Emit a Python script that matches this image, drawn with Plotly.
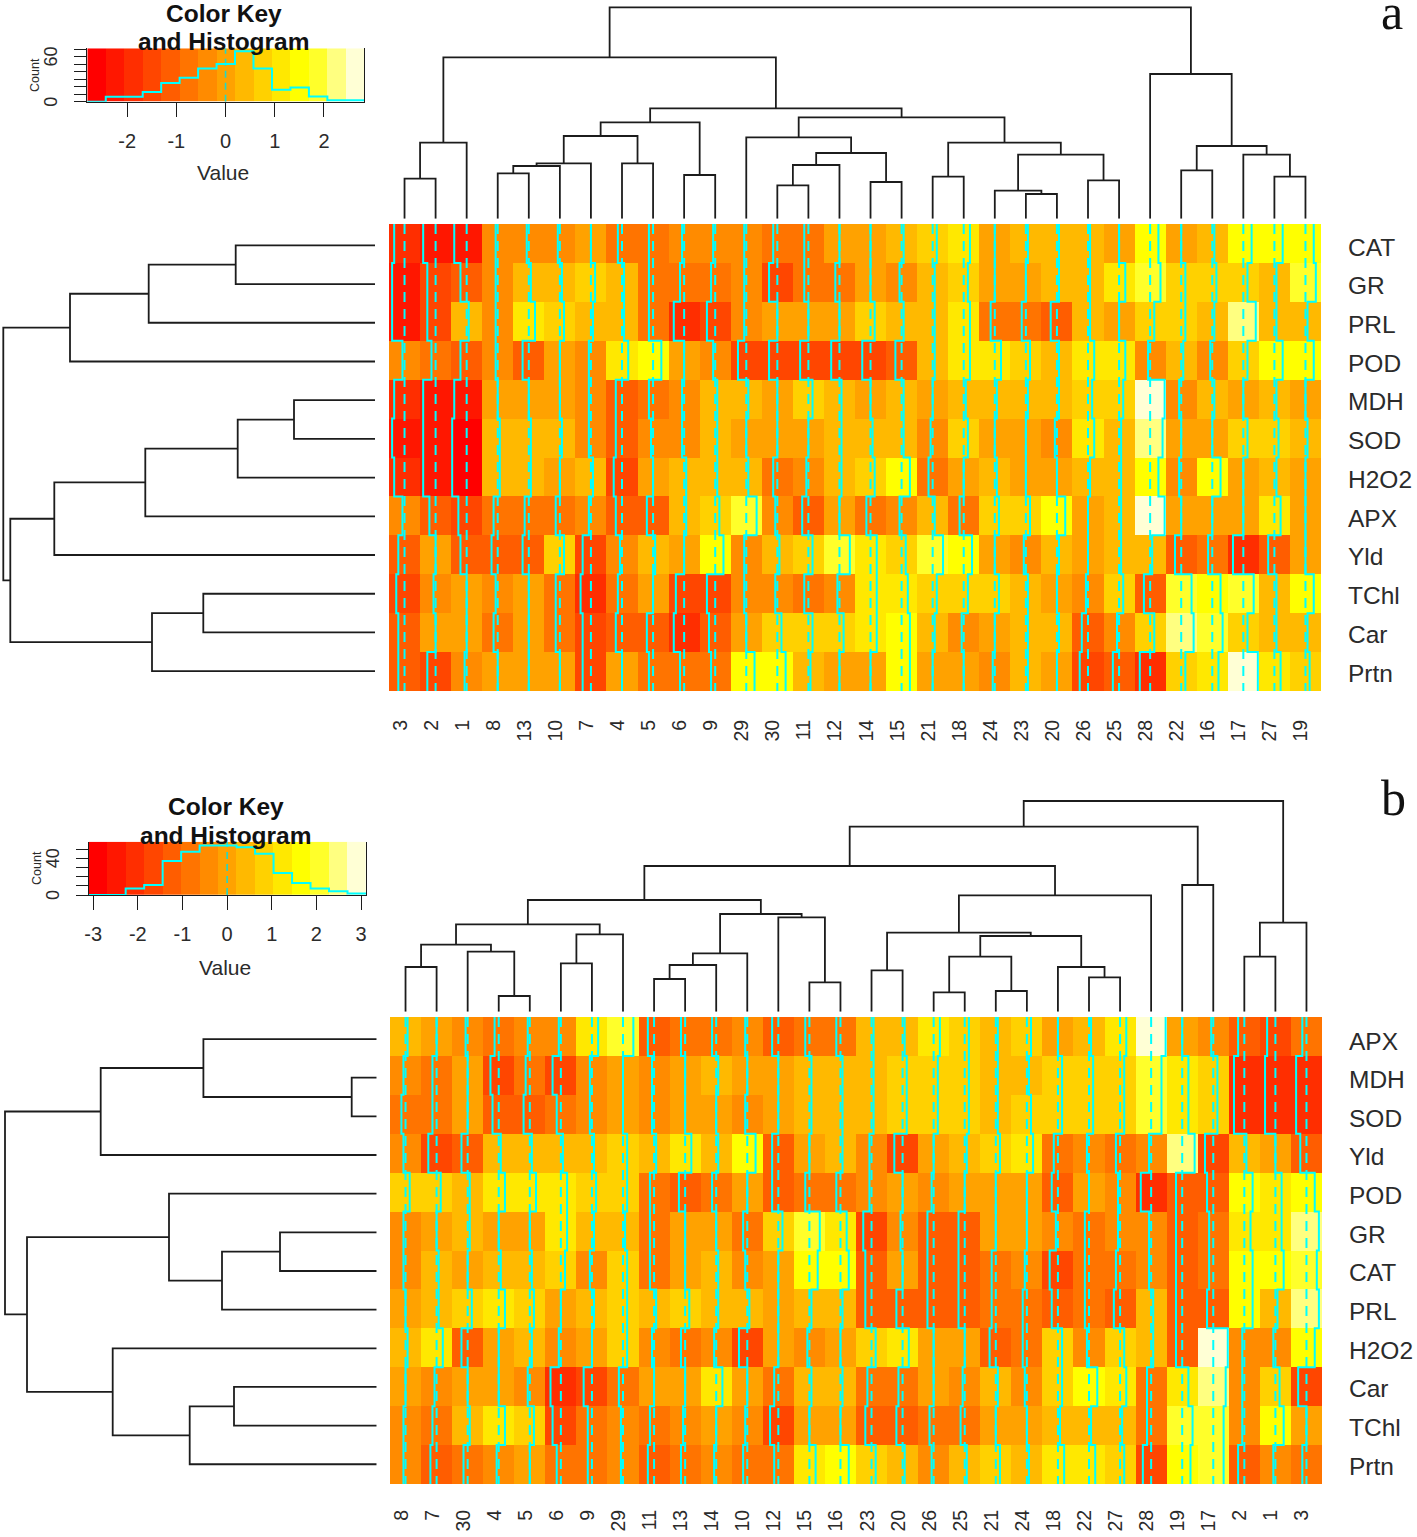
import plotly.graph_objects as go

W, H = 1417, 1537

# colour levels of the key (R heat.colors(15))
key_colors = ["#FF0000", "#FF1700", "#FF2E00", "#FF4600", "#FF5D00", "#FF7400", "#FF8B00", "#FFA200",
              "#FFB900", "#FFD100", "#FFE800", "#FFFF00", "#FFFF2A", "#FFFF80", "#FFFFD5"]

# ---------- panel a ----------
a_rows = ["CAT", "GR", "PRL", "POD", "MDH", "SOD", "H2O2", "APX", "Yld", "TChl", "Car", "Prtn"]
a_cols = ["3", "2", "1", "8", "13", "10", "7", "4", "5", "6", "9", "29", "30", "11", "12",
          "14", "15", "21", "18", "24", "23", "20", "26", "25", "28", "22", "16", "17", "27", "19"]
a_CAT = [2, 1, 1, 6, 6, 6, 7, 5, 5, 6, 6, 6, 5, 5, 7, 7, 8, 9, 10, 7, 8, 8, 8, 7, 11, 7, 8, 11, 11, 11]
a_GR = [1, 3, 4, 6, 8, 8, 9, 8, 5, 5, 5, 6, 3, 5, 5, 7, 6, 8, 9, 7, 7, 8, 8, 10, 12, 9, 9, 9, 8, 12]
a_PRL = [1, 3, 8, 6, 10, 9, 8, 8, 5, 2, 3, 6, 7, 7, 7, 9, 8, 8, 10, 5, 5, 4, 8, 7, 9, 9, 8, 13, 8, 8]
a_POD = [6, 5, 4, 6, 4, 7, 6, 10, 11, 7, 6, 3, 3, 3, 3, 3, 4, 8, 10, 10, 9, 8, 10, 10, 6, 8, 6, 9, 11, 11]
a_MDH = [2, 1, 1, 7, 7, 7, 6, 4, 5, 6, 8, 8, 7, 9, 8, 7, 8, 7, 8, 8, 8, 8, 9, 9, 14, 6, 8, 7, 8, 7]
a_SOD = [1, 1, 0, 8, 8, 8, 6, 4, 6, 6, 8, 7, 7, 7, 8, 8, 8, 6, 9, 7, 7, 6, 10, 8, 13, 7, 7, 9, 9, 8]
a_H2O2 = [2, 1, 0, 8, 8, 7, 8, 3, 7, 8, 8, 8, 5, 6, 8, 9, 11, 5, 7, 8, 7, 7, 8, 8, 11, 6, 11, 7, 8, 7]
a_APX = [6, 4, 3, 5, 5, 5, 6, 4, 4, 8, 9, 12, 6, 4, 7, 5, 6, 8, 5, 9, 9, 11, 7, 8, 14, 7, 7, 7, 10, 7]
a_Yld = [4, 7, 4, 4, 4, 9, 3, 6, 8, 7, 11, 6, 8, 9, 12, 10, 9, 12, 11, 7, 6, 8, 7, 8, 8, 4, 5, 2, 4, 7]
a_TChl = [3, 6, 7, 6, 7, 5, 2, 5, 7, 3, 3, 6, 6, 5, 6, 10, 10, 9, 9, 9, 8, 7, 6, 9, 4, 12, 11, 12, 8, 11]
a_Car = [4, 7, 7, 5, 7, 5, 3, 4, 4, 2, 4, 7, 9, 9, 9, 10, 11, 8, 6, 7, 8, 8, 4, 6, 9, 13, 12, 9, 8, 8]
a_Prtn = [4, 3, 6, 7, 7, 7, 3, 7, 5, 5, 5, 11, 11, 8, 7, 7, 11, 7, 7, 6, 8, 7, 3, 4, 2, 9, 10, 14, 10, 9]
a_levels = [a_CAT, a_GR, a_PRL, a_POD, a_MDH, a_SOD, a_H2O2, a_APX, a_Yld, a_TChl, a_Car, a_Prtn]

# merge trees: (height, left, right)
a_col_tree = (211.3,
    (161.3,
        (76, (40, "3", "2"), "1"),
        (110.3,
            (96.3,
                (82.7,
                    (55.3, (52.7, (45.3, "8", "13"), "10"), "7"),
                    (55.3, "4", "5")),
                (43.7, "6", "9")),
            (101.3,
                (81.3, "29",
                    (65.7,
                        (53.7, (33.3, "30", "11"), "12"),
                        (36.7, "14", "15"))),
                (76,
                    (42, "21", "18"),
                    (64,
                        (28, "24", (24.7, "23", "20")),
                        (38.3, "26", "25")))))),
    (144.7, "28",
        (72.7,
            (48.3, "22", "16"),
            (64, "17", (42, "27", "19")))))
a_row_tree = (371.7,
    (305, (226.3, (139.3, "CAT", "GR"), "PRL"), "POD"),
    (364.7,
        (320.7,
            (229.7, (137.3, (81, "MDH", "SOD"), "H2O2"), "APX"),
            "Yld"),
        (223, (171.7, "TChl", "Car"), "Prtn")))

a_hist = [0, 6.7, 6.7, 13, 25, 32, 44, 50, 67, 44, 16, 19, 7, 2, 2]
a_key_range = [-2.81, 2.82]
a_key_xticks = [-2, -1, 0, 1, 2]
a_key_yticks = [0, 10, 20, 30, 40, 50, 60, 70]
a_key_ylabels = [0, 60]
a_key_top = 71

# ---------- panel b ----------
b_rows = ["APX", "MDH", "SOD", "Yld", "POD", "GR", "CAT", "PRL", "H2O2", "Car", "TChl", "Prtn"]
b_cols = ["8", "7", "30", "4", "5", "6", "9", "29", "11", "13", "14", "10", "12", "15", "16",
          "23", "20", "26", "25", "21", "24", "18", "22", "27", "28", "19", "17", "2", "1", "3"]
b_APX = [8, 7, 6, 5, 6, 6, 10, 12, 4, 5, 5, 6, 4, 5, 5, 8, 8, 10, 9, 8, 9, 7, 8, 10, 14, 7, 6, 4, 3, 5]
b_MDH = [6, 5, 7, 3, 5, 3, 6, 7, 6, 7, 8, 7, 7, 8, 8, 8, 9, 9, 9, 8, 8, 9, 9, 9, 12, 10, 9, 2, 2, 2]
b_SOD = [5, 5, 7, 4, 4, 5, 6, 7, 6, 7, 7, 6, 7, 8, 8, 8, 9, 9, 9, 8, 9, 9, 9, 9, 12, 10, 9, 2, 2, 2]
b_Yld = [6, 3, 4, 8, 8, 8, 8, 9, 8, 10, 8, 11, 4, 7, 8, 6, 3, 7, 8, 9, 10, 5, 6, 5, 6, 13, 3, 8, 7, 4]
b_POD = [9, 9, 8, 10, 10, 10, 9, 9, 5, 4, 5, 7, 4, 5, 5, 6, 7, 6, 7, 7, 7, 4, 7, 6, 2, 4, 4, 11, 10, 11]
b_GR = [6, 7, 8, 7, 7, 10, 8, 8, 5, 7, 7, 5, 9, 12, 10, 3, 6, 4, 4, 7, 7, 6, 5, 6, 6, 4, 5, 10, 10, 13]
b_CAT = [6, 8, 7, 8, 8, 9, 6, 9, 5, 7, 8, 6, 7, 11, 11, 4, 7, 4, 4, 5, 6, 3, 5, 5, 6, 4, 5, 11, 11, 12]
b_PRL = [7, 8, 9, 10, 9, 7, 8, 9, 8, 9, 8, 8, 7, 8, 8, 4, 4, 4, 4, 5, 5, 4, 5, 4, 8, 4, 4, 11, 8, 13]
b_H2O2 = [8, 10, 4, 7, 8, 6, 7, 9, 6, 5, 6, 3, 7, 6, 7, 9, 10, 7, 7, 4, 5, 9, 6, 9, 8, 4, 14, 6, 6, 11]
b_Car = [7, 6, 7, 7, 6, 2, 3, 5, 7, 7, 10, 7, 5, 8, 8, 5, 5, 7, 6, 8, 6, 9, 11, 10, 5, 10, 13, 6, 9, 3]
b_TChl = [6, 5, 8, 10, 9, 3, 5, 6, 5, 6, 7, 6, 3, 7, 7, 4, 4, 5, 5, 7, 7, 8, 8, 8, 5, 12, 12, 6, 11, 7]
b_Prtn = [6, 4, 5, 6, 7, 5, 5, 6, 4, 5, 6, 5, 5, 10, 11, 9, 8, 6, 8, 9, 8, 10, 10, 9, 3, 11, 12, 4, 6, 5]
b_levels = [b_APX, b_MDH, b_SOD, b_Yld, b_POD, b_GR, b_CAT, b_PRL, b_H2O2, b_Car, b_TChl, b_Prtn]

b_col_tree = (210.7,
    (185,
        (145.7,
            (111.7,
                (87.3,
                    (67,
                        (44.7, "8", "7"),
                        (60, "30", (15.7, "4", "5"))),
                    (77.3, (48.3, "6", "9"), "29")),
                (97.7,
                    (58.3, (46.7, (32.7, "11", "13"), "14"), "10"),
                    (94.3, "12", (29.3, "15", "16")))),
            (116.3,
                (79,
                    (41.3, "23", "20"),
                    (75.7,
                        (55, (19.3, "26", "25"), (20.7, "21", "24")),
                        (44.7, "18", (34.3, "22", "27")))),
                "28")),
        (126.7, "19", "17")),
    (89, (55, "2", "1"), "3"))
b_row_tree = (371.7,
    (276, (173.3, "APX", (25, "MDH", "SOD")), "Yld"),
    (349.7,
        (207.7, "POD", (154.7, (96.7, "GR", "CAT"), "PRL")),
        (264, "H2O2", (187, (142.7, "Car", "TChl"), "Prtn"))))

b_hist = [0, 0, 7, 11, 37, 47, 54, 54, 52, 45, 24, 13, 7, 4, 1.5]
b_key_range = [-3.10, 3.11]
b_key_xticks = [-3, -2, -1, 0, 1, 2, 3]
b_key_yticks = [0, 10, 20, 30, 40, 50]
b_key_ylabels = [0, 40]
b_key_top = 58

# ---------- style ----------
TEXT = "#2b2b2b"
LINE = "#1c1c1c"
CYAN = "#00FFFF"
SANS = "Liberation Sans"
SERIF = "Liberation Serif"
n_lv = len(key_colors)
colorscale = []
for k, c in enumerate(key_colors):
    colorscale += [[k / n_lv, c], [(k + 1) / n_lv, c]]


def xdom(a, b):
    return [a / W, b / W]


def ydom(top, bottom):
    return [1 - bottom / H, 1 - top / H]


def dendro_path(tree, order):
    xs, ys = [], []

    def walk(node):
        if isinstance(node, str):
            return order.index(node), 0
        h, l, r = node
        pl, hl = walk(l)
        pr, hr = walk(r)
        xs.extend([pl, pl, pr, pr, None])
        ys.extend([hl, h, h, hr, None])
        return (pl + pr) / 2, h

    walk(tree)
    return xs, ys


fig = go.Figure()
layout = {}
annotations = []


def ax(i):
    return ("xaxis" if i == 0 else f"xaxis{i + 1}"), ("yaxis" if i == 0 else f"yaxis{i + 1}"), \
           ("x" if i == 0 else f"x{i + 1}"), ("y" if i == 0 else f"y{i + 1}")


def add_panel(base, levels, rows, cols, col_tree, row_tree, hist, key_range, xticks, yticks, ylabels, key_top, g):
    # ---- heat map ----
    xn, yn, xr, yr = ax(base)
    fig.add_trace(go.Heatmap(z=levels, x=list(range(len(cols))), y=list(range(len(rows))),
                             colorscale=colorscale, zmin=-0.5, zmax=n_lv - 0.5, showscale=False,
                             hoverinfo="skip", xaxis=xr, yaxis=yr))
    # centre lines and trace lines
    vx, vy, tx, ty = [], [], [], []
    for j in range(len(cols)):
        vx += [j, j, None]
        vy += [-0.5, len(rows) - 0.5, None]
        for i in range(len(rows)):
            pos = j - 0.5 + (levels[i][j] + 0.5) / n_lv
            tx += [pos, pos]
            ty += [i - 0.5, i + 0.5]
        tx.append(None)
        ty.append(None)
    fig.add_trace(go.Scatter(x=vx, y=vy, mode="lines", xaxis=xr, yaxis=yr, hoverinfo="skip",
                             line=dict(color=CYAN, width=2, dash="10px,7px")))
    fig.add_trace(go.Scatter(x=tx, y=ty, mode="lines", xaxis=xr, yaxis=yr, hoverinfo="skip",
                             line=dict(color=CYAN, width=2)))
    row_h = (g["heat_y"][1] - g["heat_y"][0]) / len(rows)
    label_pos = [(g["label_first"] + i * g["label_step"] - g["heat_y"][0]) / row_h - 0.5 for i in range(len(rows))]
    layout[xn] = dict(domain=xdom(*g["heat_x"]), range=[-0.5, len(cols) - 0.5], anchor=yr, side="bottom",
                      tickmode="array", tickvals=[j - 0.14 for j in range(len(cols))], ticktext=cols, tickangle=-90,
                      ticks="", showgrid=False, zeroline=False, showline=False, ticklabelstandoff=g["col_off"],
                      automargin=False, tickfont=dict(family=SANS, size=19.5, color=TEXT))
    layout[yn] = dict(domain=ydom(*g["heat_y"]), range=[len(rows) - 0.5, -0.5], anchor=xr, side="right",
                      tickmode="array", tickvals=label_pos, ticktext=rows,
                      ticks="", showgrid=False, zeroline=False, showline=False, ticklabelstandoff=26,
                      automargin=False, tickfont=dict(family=SANS, size=24.5, color=TEXT))
    # ---- column dendrogram ----
    xn, yn, xr, yr = ax(base + 1)
    dx, dy = dendro_path(col_tree, cols)
    fig.add_trace(go.Scatter(x=dx, y=dy, mode="lines", xaxis=xr, yaxis=yr, hoverinfo="skip",
                             line=dict(color=LINE, width=1.8)))
    layout[xn] = dict(domain=xdom(*g["heat_x"]), range=[-0.5, len(cols) - 0.5], anchor=yr, visible=False,
                      automargin=False)
    layout[yn] = dict(domain=ydom(g["col_top"], g["col_base"]), range=[0, g["col_base"] - g["col_top"]],
                      anchor=xr, visible=False, automargin=False)
    # ---- row dendrogram ----
    xn, yn, xr, yr = ax(base + 2)
    dy, dx = dendro_path(row_tree, rows)
    fig.add_trace(go.Scatter(x=dx, y=dy, mode="lines", xaxis=xr, yaxis=yr, hoverinfo="skip",
                             line=dict(color=LINE, width=1.8)))
    layout[xn] = dict(domain=xdom(0, g["row_base"]), range=[g["row_base"], 0], anchor=yr, visible=False,
                      automargin=False)
    layout[yn] = dict(domain=ydom(*g["row_y"]), range=[len(rows) - 0.5, -0.5], anchor=xr, visible=False,
                      automargin=False)
    # ---- colour key ----
    xn, yn, xr, yr = ax(base + 3)
    width = (key_range[1] - key_range[0]) / n_lv
    edges = [key_range[0] + k * width for k in range(n_lv + 1)]
    fig.add_trace(go.Heatmap(z=[list(range(n_lv))], x0=key_range[0] + width / 2, dx=width,
                             y0=key_top / 2, dy=key_top, colorscale=colorscale, zmin=-0.5, zmax=n_lv - 0.5,
                             showscale=False, hoverinfo="skip", xaxis=xr, yaxis=yr))
    fig.add_trace(go.Scatter(x=[0, 0], y=[0, key_top], mode="lines", xaxis=xr, yaxis=yr, hoverinfo="skip",
                             line=dict(color="#20D8C8", width=1.6, dash="7px,5px")))
    fig.add_trace(go.Scatter(x=edges, y=hist + [hist[-1]], mode="lines", xaxis=xr, yaxis=yr, hoverinfo="skip",
                             line=dict(color=CYAN, width=2, shape="hv")))
    layout[xn] = dict(domain=xdom(*g["key_x"]), range=key_range, anchor=yr, tickmode="array", tickvals=xticks,
                      ticktext=[str(t) for t in xticks], ticks="outside", ticklen=14, tickwidth=1.4,
                      tickcolor=LINE, showgrid=False, zeroline=False, showline=True, linecolor=LINE, linewidth=1.4,
                      ticklabelstandoff=7, automargin=False, tickfont=dict(family=SANS, size=20, color=TEXT))
    layout[yn] = dict(domain=ydom(*g["key_y"]), range=[0, key_top], anchor=xr, tickmode="array", tickvals=yticks,
                      ticktext=["" for t in yticks], ticks="outside", ticklen=12, tickwidth=1.4, tickcolor=LINE,
                      showgrid=False, zeroline=False, showline=True, mirror=True, linecolor=LINE, linewidth=1.4,
                      automargin=False)
    for v in ylabels:
        annotations.append(dict(text=str(v), xref="paper", yref=yr, x=g["count_x"] / W, y=v, xanchor="center",
                                yanchor="middle", showarrow=False, textangle=-90,
                                font=dict(family=SANS, size=18, color=TEXT)))


geom_a = dict(heat_x=(389, 1321), heat_y=(224, 691), row_y=(226, 690.5), col_top=0, col_base=218.7, row_base=375,
              key_x=(87.3, 364.3), key_y=(48.3, 101.7), col_off=24, label_first=247, label_step=38.73, count_x=51)
geom_b = dict(heat_x=(390, 1322), heat_y=(1017, 1484), row_y=(1019.7, 1483.6), col_top=790, col_base=1011.7,
              row_base=376.7, key_x=(88.7, 366), key_y=(841.7, 895), col_off=21, label_first=1041,
              label_step=38.64, count_x=53)

add_panel(0, a_levels, a_rows, a_cols, a_col_tree, a_row_tree, a_hist, a_key_range, a_key_xticks, a_key_yticks,
          a_key_ylabels, a_key_top, geom_a)
add_panel(4, b_levels, b_rows, b_cols, b_col_tree, b_row_tree, b_hist, b_key_range, b_key_xticks, b_key_yticks,
          b_key_ylabels, b_key_top, geom_b)


def note(text, x, y, size, family=SANS, bold=False, angle=0, color=TEXT):
    return dict(text=f"<b>{text}</b>" if bold else text, xref="paper", yref="paper", x=x / W, y=1 - y / H,
                xanchor="center", yanchor="middle", showarrow=False, textangle=angle,
                font=dict(family=family, size=size, color=color))


annotations += [
    note("Color Key", 224, 13, 24.5, bold=True, color="#111111"),
    note("and Histogram", 224, 41, 24.5, bold=True, color="#111111"),
    note("Value", 223, 173, 21),
    note("Count", 35, 75, 12.5, angle=-90),
    note("a", 1392, 12, 50, family=SERIF, color="#111111"),
    note("Color Key", 226, 806, 24.5, bold=True, color="#111111"),
    note("and Histogram", 226, 835, 24.5, bold=True, color="#111111"),
    note("Value", 225, 967, 21),
    note("Count", 37, 868, 12.5, angle=-90),
    note("b", 1393, 798, 50, family=SERIF, color="#111111"),
]

fig.update_layout(width=W, height=H, margin=dict(l=0, r=0, t=0, b=0, pad=0, autoexpand=False), showlegend=False,
                  paper_bgcolor="white", plot_bgcolor="white", hovermode=False,
                  annotations=annotations, **layout)

fig.write_html("out.html", post_script="document.body.style.margin='0';",
               config={"displayModeBar": False})
